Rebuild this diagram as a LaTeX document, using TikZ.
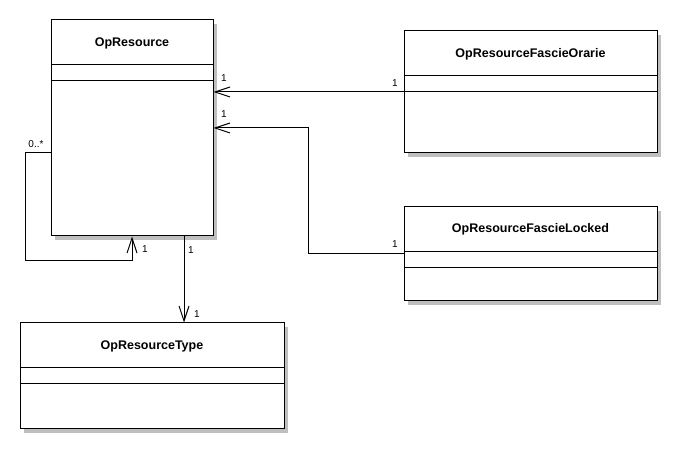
\documentclass[tikz,border=0pt]{standalone}
\usepackage{fontspec}
\setmainfont{Liberation Sans}
\usetikzlibrary{arrows.meta,shadows}
\tikzstyle{classbox} = [draw=black, line width=1pt, rectangle, fill=white, inner sep=0pt, drop shadow={shadow xshift=4pt, shadow yshift=-4pt, fill=gray!50, opacity=1}]
\tikzstyle{classname} = [font=\fontsize{12.5}{14}\selectfont\bfseries, inner sep=0pt]
\tikzstyle{assoc} = [draw=black, line width=1pt]
\tikzstyle{nav} = [assoc, -{Straight Barb[length=15pt,width=10pt,line width=1pt]}]
\tikzstyle{mult} = [font=\fontsize{10}{11}\selectfont, inner sep=0pt]

\begin{document}
\begin{tikzpicture}[x=1pt,y=-1pt]
\useasboundingbox (0,0) rectangle (681,454);

% classes
\node [classbox, minimum width=162pt, minimum height=216pt] (opres) at (132,128) {};
\node [classbox, minimum width=253pt, minimum height=122pt] (orarie) at (530.5,92) {};
\node [classbox, minimum width=253pt, minimum height=94pt] (locked) at (530.5,254) {};
\node [classbox, minimum width=264pt, minimum height=106pt] (optype) at (152,376) {};

% names and compartments
\node [classname] (opresname) at ([yshift=-24pt]opres.north) {OpResource};
\node [classname] (orariename) at ([yshift=-24pt]orarie.north) {OpResourceFascieOrarie};
\node [classname] (lockedname) at ([yshift=-23pt]locked.north) {OpResourceFascieLocked};
\node [classname] (optypename) at ([yshift=-24pt]optype.north) {OpResourceType};
\foreach \c in {opres,orarie,locked,optype}{
  \draw [assoc] ([yshift=-45pt]\c.north west) -- ([yshift=-45pt]\c.north east);
  \draw [assoc] ([yshift=-61pt]\c.north west) -- ([yshift=-61pt]\c.north east);
}

% associations
\draw [nav] (orarie.west) -- (orarie.west -| opres.east);
\draw [nav] (locked.west) -| (308,128) -- (opres.east);
\coordinate (loopstart) at ([yshift=-25pt]opres.west);
\draw [nav] (loopstart) -- ++(-25,0) |- (132,261) -- (opres.south);
\coordinate (typestart) at ([xshift=52pt]opres.south);
\draw [nav] (typestart) -- (typestart |- optype.north);

% multiplicities
\node [mult] (m1) at (224,78) {1};
\node [mult] (m2) at (395,83) {1};
\node [mult] (m3) at (224,114) {1};
\node [mult] (m4) at (395,244) {1};
\node [mult] (m5) at (36,144) {0..*};
\node [mult] (m6) at (145,249) {1};
\node [mult] (m7) at (191,250) {1};
\node [mult] (m8) at (197,314) {1};
\end{tikzpicture}
\end{document}
